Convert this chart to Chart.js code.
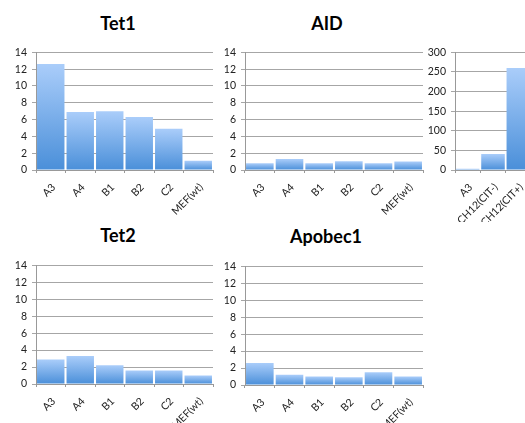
<!DOCTYPE html>
<html>
<head>
<meta charset="utf-8">
<script src="https://cdn.jsdelivr.net/npm/chart.js@4.4.1/dist/chart.umd.min.js"></script>
<style>
  body { margin: 0; width: 525px; height: 423px; overflow: hidden; background: #fff; position: relative; font-family: Lato, sans-serif; }
  .box { position: absolute; }
  .title { position: absolute; font-weight: bold; font-size: 18px; color: #000; transform: translate(-50%, -50%); white-space: nowrap; }
</style>
</head>
<body>

<div class="title" style="left:118px; top:23px">Tet1</div>
<div class="title" style="left:327px; top:23px">AID</div>
<div class="title" style="left:118px; top:235px">Tet2</div>
<div class="title" style="left:326px; top:236px">Apobec1</div>

<div class="box" style="left:0px; top:41px; width:220px; height:176px"><canvas id="tet1"></canvas></div>
<div class="box" style="left:210px; top:41px; width:220px; height:176px"><canvas id="aid"></canvas></div>
<div class="box" style="left:420px; top:41px; width:118px; height:181px"><canvas id="aidCh12"></canvas></div>
<div class="box" style="left:0px; top:254px; width:220px; height:175px"><canvas id="tet2"></canvas></div>
<div class="box" style="left:210px; top:255px; width:220px; height:175px"><canvas id="apobec1"></canvas></div>

<script>
// categories
const cellLines = ['A3', 'A4', 'B1', 'B2', 'C2', 'MEF(wt)'];
const ch12Lines = ['A3', 'CH12(CIT-)', 'CH12(CIT+)'];

// values
const tet1Values = [12.6, 6.9, 7.0, 6.3, 4.9, 1.1];
const aidValues = [0.8, 1.3, 0.8, 1.05, 0.8, 1.0];
const aidCh12Values = [3, 41, 260];
const tet2Values = [2.9, 3.3, 2.2, 1.6, 1.6, 1.0];
const apobec1Values = [2.6, 1.2, 1.0, 0.9, 1.5, 1.0];

// y axis ranges
const smallMax = 14, smallStep = 2;
const bigMax = 300, bigStep = 50;

// each bar gets its own light-to-dark gradient, like excel does
function barFill(context) {
    const chart = context.chart;
    if (!chart.chartArea || context.type !== 'data') return '#7fb1ee';
    const y = chart.scales.y;
    const top = y.getPixelForValue(context.raw);
    const bottom = y.getPixelForValue(0);
    const g = chart.ctx.createLinearGradient(0, top, 0, bottom);
    g.addColorStop(0, '#aacdfa');
    g.addColorStop(1, '#4a8fd9');
    return g;
}

function makePanel(id, labels, values, max, step, yWidth, xHeight) {
    const ctx = document.getElementById(id).getContext('2d');
    new Chart(ctx, {
        type: 'bar',
        data: {
            labels: labels,
            datasets: [{
                data: values,
                backgroundColor: barFill,
                borderWidth: 0,
                barPercentage: 0.93,
                categoryPercentage: 1.0
            }]
        },
        options: {
            responsive: true,
            maintainAspectRatio: false,
            animation: false,
            layout: { padding: { top: 8, right: 7, left: 0, bottom: 0 } },
            plugins: {
                legend: { display: false },
                tooltip: { enabled: false }
            },
            scales: {
                x: {
                    grid: { drawOnChartArea: false, tickLength: 3, color: '#999' },
                    border: { color: '#999' },
                    ticks: {
                        minRotation: 45,
                        maxRotation: 45,
                        labelOffset: 3,
                        padding: 8,
                        autoSkip: false,
                        color: '#222',
                        font: { family: 'Lato', size: 10.5 }
                    },
                    afterFit: s => { s.height = xHeight; }
                },
                y: {
                    min: 0,
                    max: max,
                    grid: { color: '#a6a6a6', tickLength: 4 },
                    border: { color: '#999' },
                    ticks: {
                        stepSize: step,
                        padding: 5,
                        color: '#222',
                        font: { family: 'Lato', size: 10.5 }
                    },
                    afterFit: s => { s.width = yWidth; }
                }
            }
        }
    });
}

makePanel('tet1', cellLines, tet1Values, smallMax, smallStep, 36, 47);
makePanel('aid', cellLines, aidValues, smallMax, smallStep, 35, 47);
makePanel('aidCh12', ch12Lines, aidCh12Values, bigMax, bigStep, 35, 52);
makePanel('tet2', cellLines, tet2Values, smallMax, smallStep, 36, 45);
makePanel('apobec1', cellLines, apobec1Values, smallMax, smallStep, 35, 45);
</script>
</body>
</html>
